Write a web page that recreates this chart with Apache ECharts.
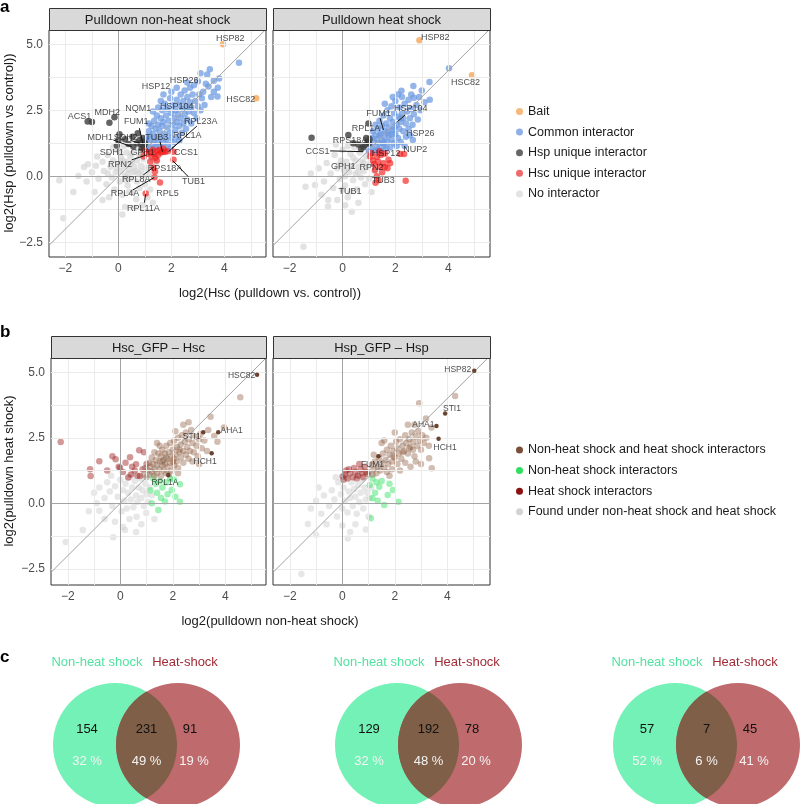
<!DOCTYPE html>
<html><head><meta charset="utf-8">
<script src="https://cdn.jsdelivr.net/npm/echarts@6/dist/echarts.min.js"></script>
<style>html,body{margin:0;padding:0;background:#fff}#c{width:800px;height:804px}</style>
</head><body><div id="c"></div>
<script>
// ---------- tick labels ----------
const xTickValues = [-2, 0, 2, 4];
const yTickValues = [-2.5, 0, 2.5, 5];
const xGridValues = [-2, -1, 0, 1, 2, 3, 4, 5];
const yGridValues = [-2.5, -1.25, 0, 1.25, 2.5, 3.75, 5];

// ---------- panel a : facet titles & categories ----------
const aFacets = ['Pulldown non-heat shock', 'Pulldown heat shock'];
const aCategories = ['Bait', 'Common interactor', 'Hsp unique interactor', 'Hsc unique interactor', 'No interactor'];

// Pulldown non-heat shock
const a1Bait = [[3.95,5.0],[5.2,2.95]];
const a1Common = [[0.95,1.2],[1.0,1.35],[1.05,1.1],[1.1,1.5],[1.1,1.25],[1.15,1.7],[1.2,1.05],[1.2,1.4],[1.25,1.9],[1.15,2.0],
[1.3,1.2],[1.3,1.6],[1.35,1.35],[1.35,2.1],[1.4,1.1],[1.4,1.8],[1.45,1.5],[1.45,2.3],[1.5,1.3],[1.5,1.95],[1.3,2.45],[1.5,2.6],
[1.55,1.15],[1.55,1.7],[1.6,2.2],[1.6,1.45],[1.65,1.9],[1.65,2.5],[1.7,1.25],[1.7,2.05],[1.75,1.6],[1.75,2.75],[1.8,1.4],[1.8,2.3],[1.7,3.1],[1.6,2.85],
[1.85,1.85],[1.85,2.55],[1.9,1.2],[1.9,2.1],[1.95,1.65],[1.95,2.95],[2.0,2.4],[2.0,1.45],[2.05,1.95],[2.05,2.7],[2.1,2.2],[2.1,1.3],[2.0,3.2],
[2.15,1.75],[2.15,2.5],[2.2,2.9],[2.2,2.05],[2.25,1.5],[2.25,2.35],[2.3,2.7],[2.3,1.9],[2.35,3.1],[2.35,2.2],[2.4,1.65],[2.4,2.55],[2.2,3.35],
[2.45,2.0],[2.45,2.85],[2.5,2.35],[2.5,3.25],[2.55,1.8],[2.55,2.65],[2.6,2.15],[2.6,3.0],[2.65,2.45],[2.7,2.8],[2.7,3.35],[2.75,2.0],[2.75,2.6],[2.8,3.1],[2.6,3.55],[2.85,3.45],
[2.85,2.4],[2.9,2.85],[2.95,2.2],[3.0,2.65],[3.0,3.6],[3.05,3.1],[3.1,3.9],[3.1,2.5],[3.15,2.95],[3.2,3.2],[3.25,2.7],[3.3,3.5],
[3.35,3.85],[3.4,3.4],[3.45,4.05],[3.5,3.0],[3.6,3.62],[3.6,3.2],[3.8,3.7],[3.75,3.35],[4.55,4.3],[3.74,3.02],[1.95,1.05],[2.3,1.35],[1.75,1.0]];
const a1HspUnique = [[-1.16,2.07],[-1.0,2.05],[-0.15,2.23],[-0.34,2.03],[0.04,1.59],[-0.06,1.16],[0.0,1.37],[0.38,1.22],[0.56,1.14],[0.73,1.63],[0.8,1.37],
[0.97,1.08],[1.0,0.98],[0.85,1.2],[0.9,1.3],[0.92,1.45],[0.95,1.15],[0.88,1.05],[0.53,1.5],[0.7,1.25],[1.0,1.25],[0.25,1.4]];
const a1HscUnique = [[1.0,0.95],[1.1,0.85],[1.2,0.9],[1.25,0.75],[1.3,1.0],[1.35,0.85],[1.4,0.7],[1.45,0.95],[1.5,0.8],[1.55,1.0],[1.6,0.9],[1.7,1.05],
[1.75,0.92],[1.85,0.95],[2.08,0.93],[2.08,0.62],[1.45,0.6],[1.32,0.32],[1.38,0.18],[1.36,-0.04],[1.57,-0.24],[1.03,-0.65],[1.2,0.55],[0.95,0.75],[1.66,0.93]];
const a1None = [[-2.23,-0.15],[-2.08,-1.59],[-1.51,0.01],[-1.3,0.35],[-1.15,0.45],[-1.0,0.15],[-0.85,0.4],[-0.75,-0.1],[-0.6,0.55],[-0.55,0.2],[-0.45,-0.3],
[-0.4,0.8],[-0.3,0.35],[-0.25,-0.05],[-0.2,0.6],[-0.15,-0.5],[-0.1,0.15],[-0.05,1.0],[0.0,0.45],[0.05,-0.2],[0.1,0.7],[0.1,0.2],[0.15,-0.7],[0.2,0.4],
[0.25,-1.17],[0.25,0.0],[0.3,0.9],[0.3,0.55],[0.35,-0.35],[0.4,0.25],[0.45,0.75],[0.45,-0.1],[0.5,0.5],[0.55,-0.6],[0.55,0.15],[0.6,1.0],[0.6,0.35],
[0.67,-0.87],[0.7,0.6],[0.7,-0.2],[0.75,0.1],[0.8,0.8],[0.8,-0.45],[0.85,0.4],[0.9,0.0],[0.95,0.65],[1.0,-0.3],[1.05,0.3],[1.1,-0.8],[1.15,0.1],
[1.2,-0.5],[0.9,-1.1],[-0.9,-0.6],[-0.6,-0.9],[-1.7,-0.6],[-0.35,-0.8],[0.05,0.95],[0.2,1.15],[-0.2,1.1],[0.4,-0.6],[0.6,-1.2],[1.3,-1.0],[0.75,1.1],
[1.4,0.5],[1.25,0.65],[-1.2,-0.2],[-0.8,0.75],[0.15,-1.45],[0.35,0.1],[0.15,0.6],[-0.05,0.3],[0.65,0.2],[0.5,0.85],[0.85,0.2],[0.3,-0.15],[-0.4,0.1]];
const a1Labels = [[4.22,5.23,'HSP82'],[4.62,2.92,'HSC82'],[1.42,3.39,'HSP12'],[2.48,3.62,'HSP26'],[0.75,2.58,'NQM1'],[2.2,2.66,'HSP104'],
[-1.47,2.28,'ACS1'],[-0.42,2.42,'MDH2'],[0.67,2.07,'FUM1'],[3.11,2.07,'RPL23A'],[-0.69,1.46,'MDH1'],[0.28,1.46,'SDH2'],[1.45,1.46,'TUB3'],
[2.6,1.54,'RPL1A'],[-0.25,0.91,'SDH1'],[0.92,0.91,'GPH1'],[2.55,0.89,'CCS1'],[0.06,0.43,'RPN2'],[1.76,0.3,'RPS18A'],[2.83,-0.2,'TUB1'],
[0.67,-0.14,'RPL8A'],[0.25,-0.67,'RPL4A'],[1.85,-0.67,'RPL5'],[0.94,-1.24,'RPL11A']];
const a1Segments = [[[-0.19,1.37],[0.5,1.12]],[[0.79,1.82],[0.92,1.25]],[[1.57,1.31],[1.66,0.93]],[[2.96,1.9],[1.89,0.93]],
[[2.39,1.37],[2.02,1.06]],[[0.5,0.62],[1.07,0.81]],[[2.64,-0.02],[2.05,0.59]],[[0.94,0.05],[1.35,0.36]],[[0.54,-0.52],[1.35,-0.05]],
[[0.98,-1.0],[1.03,-0.67]],[[0.45,1.36],[0.8,1.25]]];

// Pulldown heat shock
const a2Bait = [[2.91,5.15],[4.9,3.83]];
const a2Common = [[1.0,0.95],[1.05,1.2],[1.1,1.45],[1.1,1.05],[1.15,1.7],[1.2,1.3],[1.2,0.95],[1.25,1.55],[1.25,1.95],[1.3,1.1],[1.3,1.4],[1.35,1.8],
[1.35,1.0],[1.4,1.25],[1.4,2.1],[1.45,1.6],[1.45,0.95],[1.5,1.35],[1.5,1.9],[1.55,1.15],[1.55,2.3],[1.6,1.7],[1.6,1.45],[1.65,2.0],[1.65,1.05],
[1.7,1.3],[1.7,2.5],[1.75,1.55],[1.75,1.85],[1.8,2.2],[1.8,1.1],[1.85,1.4],[1.85,2.65],[1.9,1.75],[1.9,2.05],[1.95,1.25],[1.95,2.4],[2.0,1.6],
[2.0,2.85],[2.05,1.95],[2.05,1.15],[2.1,2.25],[2.1,1.45],[2.15,1.8],[2.15,2.6],[2.2,2.05],[2.2,1.3],[2.25,2.4],[2.25,3.0],[2.23,3.24],[2.3,1.7],
[2.3,2.2],[2.35,2.75],[2.4,1.5],[2.4,2.0],[2.45,2.45],[2.5,1.8],[2.5,2.9],[2.55,2.2],[2.6,3.1],[2.6,2.55],[2.65,1.95],[2.66,1.37],[2.68,3.42],
[2.7,2.97],[2.7,2.35],[2.8,2.7],[2.85,2.15],[2.9,3.0],[2.95,2.5],[3.0,3.25],[3.1,2.8],[3.29,3.57],[3.3,2.9],[4.03,4.09],[2.35,1.15],[2.55,1.55],
[1.6,2.75],[1.9,3.0],[2.1,3.1],[1.4,1.55],[1.7,1.65],[1.95,1.85],[2.2,2.2],[1.55,1.25],[1.85,1.6]];
const a2HspUnique = [[-1.17,1.46],[0.98,2.0],[1.02,1.41],[0.95,1.31],[0.85,1.18],[0.79,1.1],[0.41,1.25],[0.6,1.2],[0.22,1.56],[0.9,1.45],[1.0,1.25],[0.7,1.05]];
const a2HscUnique = [[1.1,0.87],[1.3,0.74],[1.42,0.36],[1.23,0.24],[1.55,0.49],[1.74,0.62],[1.36,-0.14],[2.39,-0.17],[2.18,0.84],[2.33,0.84],[1.15,0.6],
[1.2,0.45],[1.3,0.0],[1.45,0.8],[1.6,0.85],[1.8,0.49],[1.6,0.35],[1.35,0.55],[1.25,-0.25],[1.5,0.15],[1.05,0.75],[1.4,0.95],[1.7,0.3]];
const a2None = [[-1.48,-2.67],[-1.04,-0.33],[-0.54,-0.9],[-1.2,0.1],[-0.9,0.3],[-0.7,-0.2],[-0.6,0.5],[-0.45,0.1],[-0.35,-0.45],[-0.3,0.8],[-0.2,0.3],
[-0.1,-0.1],[-0.05,0.6],[0.0,1.0],[0.05,0.25],[0.1,-0.35],[0.15,0.55],[0.2,-0.8],[0.25,0.15],[0.3,0.85],[0.35,0.4],[0.4,-0.15],[0.45,1.1],[0.5,0.6],
[0.5,0.1],[0.55,-0.5],[0.6,0.35],[0.65,0.9],[0.7,-0.05],[0.75,0.55],[0.8,0.2],[0.85,-0.3],[0.9,0.75],[0.95,0.35],[1.0,-0.1],[1.05,0.5],[1.1,-0.6],
[0.3,-0.58],[-0.2,-0.9],[0.1,-1.1],[0.6,-1.0],[-0.8,-0.7],[0.4,1.25],[0.2,1.15],[1.2,0.2],[-1.4,-0.4],[0.0,-0.5],[-0.25,1.2],[-0.55,-1.15],[0.35,-1.35],
[0.2,0.3],[0.4,0.7],[0.1,0.0],[0.6,0.15],[-0.1,0.45],[0.8,0.5]];
const a2Labels = [[3.51,5.24,'HSP82'],[4.65,3.55,'HSC82'],[2.58,2.58,'HSP104'],[1.36,2.36,'FUM1'],[0.89,1.82,'RPL1A'],[2.94,1.6,'HSP26'],
[0.28,1.34,'RPS18A'],[-0.95,0.92,'CCS1'],[1.65,0.87,'HSP12'],[2.75,1.0,'NUP2'],[0.03,0.36,'GPH1'],[1.1,0.34,'RPN2'],[1.54,-0.17,'TUB3'],[0.28,-0.58,'TUB1']];
const a2Segments = [[[1.42,2.2],[1.55,1.75]],[[2.37,2.32],[2.08,2.07]],[[-0.47,0.96],[0.79,0.93]]];

// ---------- panel b ----------
const bFacets = ['Hsc_GFP \u2013 Hsc', 'Hsp_GFP \u2013 Hsp'];
const bCategories = ['Non-heat shock and heat shock interactors', 'Non-heat shock interactors', 'Heat shock interactors', 'Found under non-heat shock and heat shock'];

// Hsc_GFP - Hsc
const b1Both = [[0.9,1.1],[0.95,1.35],[1.0,1.0],[1.05,1.25],[1.1,1.55],[1.1,1.1],[1.15,1.4],[1.2,1.2],[1.2,1.75],[1.25,1.5],[1.3,1.05],[1.3,1.3],
[1.35,1.65],[1.4,1.45],[1.4,1.15],[1.45,1.9],[1.5,1.3],[1.5,1.6],[1.55,1.05],[1.55,1.8],[1.6,1.45],[1.6,2.05],[1.65,1.25],[1.65,1.65],[1.7,1.9],
[1.7,1.5],[1.75,1.15],[1.75,2.2],[1.8,1.7],[1.8,1.4],[1.85,1.95],[1.9,1.55],[1.9,2.3],[1.95,1.8],[1.95,1.25],[2.0,2.05],[2.0,1.6],[2.05,1.45],
[2.05,2.4],[2.1,1.85],[2.15,2.15],[2.15,1.6],[2.2,1.35],[2.2,2.5],[2.25,1.95],[2.3,1.75],[2.3,2.25],[2.35,2.6],[2.4,2.0],[2.4,1.55],[2.45,2.35],
[2.5,1.85],[2.5,2.7],[2.55,2.15],[2.6,1.7],[2.6,2.45],[2.65,2.0],[2.7,2.8],[2.75,2.3],[2.8,1.95],[2.85,2.55],[2.9,2.2],[2.95,1.8],[3.0,2.45],
[3.05,2.65],[3.1,2.1],[3.2,2.4],[3.3,2.0],[3.44,3.31],[3.95,2.9],[3.58,2.57],[4.57,4.05],[2.4,3.0],[2.1,2.75],[1.5,2.2],[1.3,1.95],[3.35,2.8],
[2.75,1.6],[3.0,1.5],[2.2,1.15],[1.85,1.1],[1.4,2.3],[2.6,3.1],[3.7,2.35],[1.75,1.75],[2.05,1.7],[2.25,2.05],[1.6,1.6]];
const b1BothLabelled = [[5.21,4.91],[3.16,2.71],[3.73,2.71],[3.48,1.91],[1.83,1.08]];
const b1NonHeat = [[1.2,0.0],[1.45,-0.26],[1.7,0.07],[2.27,0.06],[1.96,0.51],[2.27,0.73],[1.25,0.95],[1.35,0.75],[1.5,0.85],[1.6,0.6],[1.75,0.8],
[1.8,0.35],[2.05,0.9],[1.15,0.5],[1.4,0.4],[2.1,0.25],[1.55,0.2],[1.9,0.95]];
const b1Heat = [[-2.27,2.34],[-0.8,1.61],[-1.15,1.3],[-1.13,1.04],[-0.01,1.36],[0.75,1.04],[-0.18,1.68],[-0.06,1.4],[0.37,1.76],[0.72,2.03],
[0.3,0.99],[0.6,1.49],[0.1,1.2],[0.2,1.55],[0.45,1.4],[0.55,1.25],[0.85,1.3],[0.9,1.95],[0.4,1.1],[-0.5,1.25],[1.0,1.5],[0.65,1.05],[-0.3,1.8]];
const b1Found = [[-2.08,-1.48],[-1.43,-1.02],[-0.27,-1.3],[0.18,-1.02],[-0.8,-0.28],[0.62,-0.51],[0.99,-0.37],[-1.0,0.4],[-0.8,0.6],[-0.6,0.2],
[-0.5,0.8],[-0.4,0.45],[-0.3,-0.1],[-0.2,0.65],[-0.1,0.25],[0.0,0.9],[0.05,-0.3],[0.1,0.5],[0.15,0.1],[0.2,0.75],[0.25,-0.2],[0.3,0.4],[0.35,1.0],
[0.4,0.15],[0.45,0.6],[0.5,-0.15],[0.55,0.85],[0.6,0.3],[0.65,0.05],[0.7,0.6],[0.75,0.95],[0.8,0.2],[0.85,0.5],[0.9,-0.1],[0.95,0.75],[1.0,0.35],
[1.05,0.05],[1.1,0.6],[-0.6,-0.6],[-0.2,-0.7],[0.35,-0.6],[0.8,-0.8],[-1.2,-0.3],[0.45,1.1],[-0.35,1.05],[1.2,0.3],[0.1,-0.9],[1.3,-0.6],[-0.9,0.0],[0.6,-1.1]];
const b1Labels = [[4.62,4.86,'HSC82'],[2.72,2.54,'STI1'],[4.24,2.77,'AHA1'],[3.23,1.59,'HCH1'],[1.7,0.79,'RPL1A']];

// Hsp_GFP - Hsp
const b2Both = [[1.0,1.2],[1.1,1.45],[1.15,1.1],[1.2,1.3],[1.25,1.6],[1.3,1.15],[1.35,1.4],[1.4,1.75],[1.45,1.25],[1.5,1.55],[1.55,1.9],[1.6,1.35],
[1.65,1.65],[1.7,2.05],[1.7,1.2],[1.75,1.5],[1.8,1.85],[1.85,2.2],[1.9,1.6],[1.9,1.3],[1.95,2.0],[2.0,1.75],[2.05,2.35],[2.1,1.5],[2.1,2.1],
[2.15,1.9],[2.2,2.45],[2.25,1.7],[2.3,2.2],[2.35,2.0],[2.4,2.6],[2.4,1.55],[2.45,2.3],[2.5,1.9],[2.55,2.45],[2.6,2.15],[2.65,2.7],[2.7,2.35],
[2.75,1.8],[2.8,2.55],[2.85,2.2],[2.9,2.75],[2.95,2.4],[3.0,2.05],[3.05,2.6],[3.1,2.3],[3.2,2.5],[3.3,2.2],[3.31,1.72],[3.41,1.34],[4.3,4.1],
[2.93,3.82],[3.19,3.24],[2.6,1.4],[2.2,1.25],[1.5,2.3],[1.2,1.85],[2.0,2.7],[2.5,3.0],[3.0,1.5],[2.8,1.6],[1.8,1.05],[2.75,3.0],[3.4,2.9],[1.6,2.4],
[2.3,1.95],[2.55,2.1],[1.95,1.8],[2.7,2.05]];
const b2BothLabelled = [[5.03,5.06],[3.92,3.43],[3.59,2.95],[3.67,2.47],[1.38,1.8]];
const b2NonHeat = [[1.15,0.95],[1.41,0.63],[1.15,0.19],[1.73,0.32],[2.14,0.06],[1.6,-0.06],[1.09,-0.57],[1.93,0.51],[1.3,0.8],[1.25,0.4],[1.5,0.85],
[1.05,0.7],[1.35,0.1],[1.8,0.75]];
const b2Heat = [[0.01,1.02],[0.96,1.12],[0.1,1.1],[0.2,0.95],[0.3,1.15],[0.4,1.0],[0.5,1.2],[0.6,1.05],[0.7,1.3],[0.8,1.0],[0.85,1.4],[0.45,1.35],
[0.25,1.3],[0.15,1.25],[0.65,1.5],[0.9,1.2],[0.05,0.9],[0.55,0.95],[0.75,1.15]];
const b2Found = [[-1.56,-2.7],[-1.31,-0.79],[0.21,-1.34],[-1.2,-0.2],[-1.0,0.1],[-0.8,-0.4],[-0.7,0.3],[-0.5,-0.1],[-0.4,0.5],[-0.3,0.15],[-0.2,-0.5],
[-0.15,0.8],[-0.05,0.35],[0.0,-0.2],[0.05,0.6],[0.1,0.1],[0.15,1.0],[0.2,-0.35],[0.25,0.45],[0.3,0.2],[0.35,0.8],[0.4,-0.1],[0.45,0.55],[0.5,0.25],
[0.55,-0.4],[0.6,0.7],[0.65,0.05],[0.7,0.4],[0.75,0.9],[0.8,-0.2],[0.85,0.6],[0.9,0.15],[0.95,0.4],[1.0,-0.5],[1.05,0.2],[-0.6,-0.8],[0.0,-0.85],
[0.5,-0.8],[0.9,-1.0],[-0.9,0.6],[-0.25,1.0],[0.3,-1.1],[1.1,0.6],[-1.0,-1.2],[0.6,1.1]];
const b2Labels = [[4.4,5.11,'HSP82'],[4.18,3.63,'STI1'],[3.09,3.02,'AHA1'],[3.92,2.14,'HCH1'],[1.15,1.49,'FUM1']];

// ---------- panel c : Venn diagrams ----------
const vennSetNames = ['Non-heat shock', 'Heat-shock'];
const vennOnlyNonHeat = [154, 129, 57];
const vennBoth = [231, 192, 7];
const vennOnlyHeat = [91, 78, 45];
const vennPctNonHeat = ['32 %', '32 %', '52 %'];
const vennPctBoth = ['49 %', '48 %', '6 %'];
const vennPctHeat = ['19 %', '20 %', '41 %'];

// ---------- build ----------
const FONT = '"Liberation Sans", Arial, Helvetica, sans-serif';
const fmtNum = (v, d) => (v < 0 ? '\u2212' : '') + Math.abs(v).toFixed(d);

const grids = [
  {left: 49, top: 30, width: 217, height: 227},
  {left: 273, top: 30, width: 217, height: 227},
  {left: 51, top: 358, width: 215, height: 227},
  {left: 273, top: 358, width: 217, height: 227}
];
const ranges = [
  {x: [-2.62, 5.57], y: [-3.06, 5.54]},
  {x: [-2.63, 5.58], y: [-3.06, 5.54]},
  {x: [-2.64, 5.55], y: [-3.12, 5.55]},
  {x: [-2.64, 5.63], y: [-3.12, 5.55]}
];
const showY = [true, false, true, false];

const xAxes = grids.map((g, i) => ({
  gridIndex: i, type: 'value', min: ranges[i].x[0], max: ranges[i].x[1],
  splitLine: {show: false}, axisLine: {show: false},
  axisTick: {show: true, customValues: xTickValues, length: 3, lineStyle: {color: '#333', width: 1}},
  axisLabel: {customValues: xTickValues, formatter: v => fmtNum(v, 0), color: '#4d4d4d', fontSize: 12, fontFamily: FONT, margin: 6}
}));
const yAxes = grids.map((g, i) => ({
  gridIndex: i, type: 'value', min: ranges[i].y[0], max: ranges[i].y[1],
  splitLine: {show: false}, axisLine: {show: false},
  axisTick: {show: showY[i], customValues: yTickValues, length: 3, lineStyle: {color: '#333', width: 1}},
  axisLabel: {show: showY[i], customValues: yTickValues, formatter: v => fmtNum(v, 1), color: '#4d4d4d', fontSize: 12, fontFamily: FONT, margin: 6}
}));

const series = [];
function background(i) {
  const r = ranges[i];
  const data = [];
  xGridValues.forEach(v => data.push({xAxis: v, lineStyle: {color: '#ebebeb', width: 1}}));
  yGridValues.forEach(v => data.push({yAxis: v, lineStyle: {color: '#ebebeb', width: 1}}));
  data.push({xAxis: 0, lineStyle: {color: '#a3a3a3', width: 1}});
  data.push({yAxis: 0, lineStyle: {color: '#a3a3a3', width: 1}});
  const lo = Math.max(r.x[0], r.y[0]), hi = Math.min(r.x[1], r.y[1]);
  data.push([{coord: [lo, lo], lineStyle: {color: '#a3a3a3', width: 1}}, {coord: [hi, hi]}]);
  series.push({
    type: 'scatter', name: 'grid' + i, xAxisIndex: i, yAxisIndex: i, data: [], z: 1, silent: true,
    markLine: {symbol: ['none', 'none'], silent: true, animation: false, label: {show: false}, lineStyle: {type: 'solid'}, data: data}
  });
}
function pts(i, name, data, color, opacity, size, z) {
  series.push({type: 'scatter', name: name, xAxisIndex: i, yAxisIndex: i, data: data, symbolSize: size || 6.5, z: z || 3,
    itemStyle: {color: color, opacity: opacity, borderWidth: 0}, silent: true, animation: false});
}
function labels(i, data, size) {
  series.push({type: 'scatter', name: 'lab' + i, xAxisIndex: i, yAxisIndex: i, data: data, symbolSize: 0, z: 10, silent: true, animation: false,
    label: {show: true, position: 'inside', formatter: p => p.data[2], fontSize: size, color: '#1a1a1a', fontFamily: FONT}});
}
function segs(i, data) {
  series.push({type: 'lines', name: 'seg' + i, coordinateSystem: 'cartesian2d', xAxisIndex: i, yAxisIndex: i, z: 9, silent: true, animation: false,
    data: data.map(s => ({coords: s})), lineStyle: {color: '#111', width: 1, opacity: 1}});
}

const colA = {bait: '#f5a656', common: '#6b98e0', hsp: '#3d3d3d', hsc: '#f21c1c', none: '#d6d6d6'};
[[a1Bait, a1Common, a1HspUnique, a1HscUnique, a1None, a1Labels, a1Segments],
 [a2Bait, a2Common, a2HspUnique, a2HscUnique, a2None, a2Labels, a2Segments]].forEach((d, i) => {
  background(i);
  pts(i, aCategories[4], d[4], colA.none, 0.7);
  pts(i, aCategories[1], d[1], colA.common, 0.72);
  pts(i, aCategories[2], d[2], colA.hsp, 0.8);
  pts(i, aCategories[3], d[3], colA.hsc, 0.65);
  pts(i, aCategories[0], d[0], colA.bait, 0.8);
  segs(i, d[6]);
  labels(i, d[5], 9);
});
const colB = {both: '#8c5a3d', non: '#2de05a', heat: '#9c1a1a', found: '#d0d0d0', dark: '#6a4330'};
[[b1Both, b1BothLabelled, b1NonHeat, b1Heat, b1Found, b1Labels],
 [b2Both, b2BothLabelled, b2NonHeat, b2Heat, b2Found, b2Labels]].forEach((d, k) => {
  const i = k + 2;
  background(i);
  pts(i, bCategories[3], d[4], colB.found, 0.5);
  pts(i, bCategories[1], d[2], colB.non, 0.45);
  pts(i, bCategories[2], d[3], colB.heat, 0.45);
  pts(i, bCategories[0], d[0], colB.both, 0.4);
  pts(i, 'labelled' + i, d[1], colB.dark, 1, 4.5, 5);
  labels(i, d[5], 8.5);
});

// Venn diagrams (panel c)
const vennCx = [115, 397, 675];
series.push({
  type: 'custom', coordinateSystem: 'none', silent: true, animation: false, z: 5,
  data: vennBoth.map((v, i) => [i]),
  renderItem: function (params, api) {
    const i = api.value(0);
    const r = 62, d = 63, cy = 745;
    const cg = vennCx[i], cr = cg + d, mx = (cg + cr) / 2;
    const h = Math.sqrt(r * r - (d / 2) * (d / 2));
    const lens = 'M' + mx + ' ' + (cy - h) + ' A' + r + ' ' + r + ' 0 0 1 ' + mx + ' ' + (cy + h) +
                 ' A' + r + ' ' + r + ' 0 0 1 ' + mx + ' ' + (cy - h) + ' Z';
    const t = (txt, x, y, fill, size) => ({type: 'text', style: {text: txt, x: x, y: y, fill: fill, font: size + 'px ' + FONT, align: 'center', verticalAlign: 'middle'}});
    return {type: 'group', children: [
      {type: 'circle', shape: {cx: cg, cy: cy, r: r}, style: {fill: '#74f1b6'}},
      {type: 'circle', shape: {cx: cr, cy: cy, r: r}, style: {fill: '#bf6a6c'}},
      {type: 'path', shape: {pathData: lens}, style: {fill: '#7f5f48'}},
      t(vennSetNames[0], cg - 18, 662, '#52e2a0', 13),
      t(vennSetNames[1], cr + 7, 662, '#a02c36', 13),
      t(String(vennOnlyNonHeat[i]), cg - 28, 729.5, '#111', 13),
      t(String(vennBoth[i]), mx, 729.5, '#111', 13),
      t(String(vennOnlyHeat[i]), cr + 12, 729.5, '#111', 13),
      t(vennPctNonHeat[i], cg - 28, 761, '#f4f4f4', 13),
      t(vennPctBoth[i], mx, 761, '#f4f4f4', 13),
      t(vennPctHeat[i], cr + 16, 761, '#f4f4f4', 13)
    ]};
  }
});

// strip headers and titles
const graphic = [];
function strip(g, top, text) {
  graphic.push({type: 'rect', shape: {x: g.left + 0.5, y: top + 0.5, width: g.width, height: 22}, style: {fill: '#d9d9d9', stroke: '#333', lineWidth: 1}, z: 20});
  graphic.push({type: 'text', x: g.left + g.width / 2, y: top + 12, style: {text: text, font: '13px ' + FONT, fill: '#1a1a1a', textAlign: 'center', textVerticalAlign: 'middle'}, z: 21});
}
strip(grids[0], 8, aFacets[0]);
strip(grids[1], 8, aFacets[1]);
strip(grids[2], 336, bFacets[0]);
strip(grids[3], 336, bFacets[1]);
graphic.push({type: 'text', x: 270, y: 293, style: {text: 'log2(Hsc (pulldown vs. control))', font: '13px ' + FONT, fill: '#1a1a1a', textAlign: 'center', textVerticalAlign: 'middle'}});
graphic.push({type: 'text', x: 270, y: 621, style: {text: 'log2(pulldown non-heat shock)', font: '13px ' + FONT, fill: '#1a1a1a', textAlign: 'center', textVerticalAlign: 'middle'}});
graphic.push({type: 'text', x: 9, y: 143, rotation: Math.PI / 2, style: {text: 'log2(Hsp (pulldown vs control))', font: '13px ' + FONT, fill: '#1a1a1a', textAlign: 'center', textVerticalAlign: 'middle'}});
graphic.push({type: 'text', x: 9, y: 471, rotation: Math.PI / 2, style: {text: 'log2(pulldown heat shock)', font: '13px ' + FONT, fill: '#1a1a1a', textAlign: 'center', textVerticalAlign: 'middle'}});
graphic.push({type: 'text', x: 0, y: 7, style: {text: 'a', font: 'bold 17px ' + FONT, fill: '#000', textAlign: 'left', textVerticalAlign: 'middle'}});
graphic.push({type: 'text', x: 0, y: 332, style: {text: 'b', font: 'bold 17px ' + FONT, fill: '#000', textAlign: 'left', textVerticalAlign: 'middle'}});
graphic.push({type: 'text', x: 0, y: 657, style: {text: 'c', font: 'bold 17px ' + FONT, fill: '#000', textAlign: 'left', textVerticalAlign: 'middle'}});

const legendAColors = ['#f7b87a', '#8fb0e6', '#666666', '#f06a6a', '#e3e3e3'];
const legendBColors = ['#7a4f3a', '#2fe060', '#8a1212', '#d3d3d3'];

const option = {
  animation: false,
  backgroundColor: '#fff',
  grid: grids.map(g => Object.assign({show: true, borderColor: '#333', borderWidth: 1, backgroundColor: '#fff', containLabel: false}, g)),
  xAxis: xAxes,
  yAxis: yAxes,
  legend: [
    {orient: 'vertical', left: 511, top: 99.5, icon: 'circle', itemWidth: 7, itemHeight: 7, itemGap: 6.6, selectedMode: false,
      textStyle: {fontSize: 12.5, color: '#1a1a1a', fontFamily: FONT, lineHeight: 14},
      data: aCategories.map((n, k) => ({name: n, itemStyle: {color: legendAColors[k], opacity: 1}}))},
    {orient: 'vertical', left: 511, top: 438, icon: 'circle', itemWidth: 7, itemHeight: 7, itemGap: 6.6, selectedMode: false,
      textStyle: {fontSize: 12.5, color: '#1a1a1a', fontFamily: FONT, lineHeight: 14},
      data: bCategories.map((n, k) => ({name: n, itemStyle: {color: legendBColors[k], opacity: 1}}))}
  ],
  graphic: graphic,
  series: series
};
const chart = echarts.init(document.getElementById('c'), null, {renderer: 'canvas'});
chart.setOption(option);
</script>
</body></html>
